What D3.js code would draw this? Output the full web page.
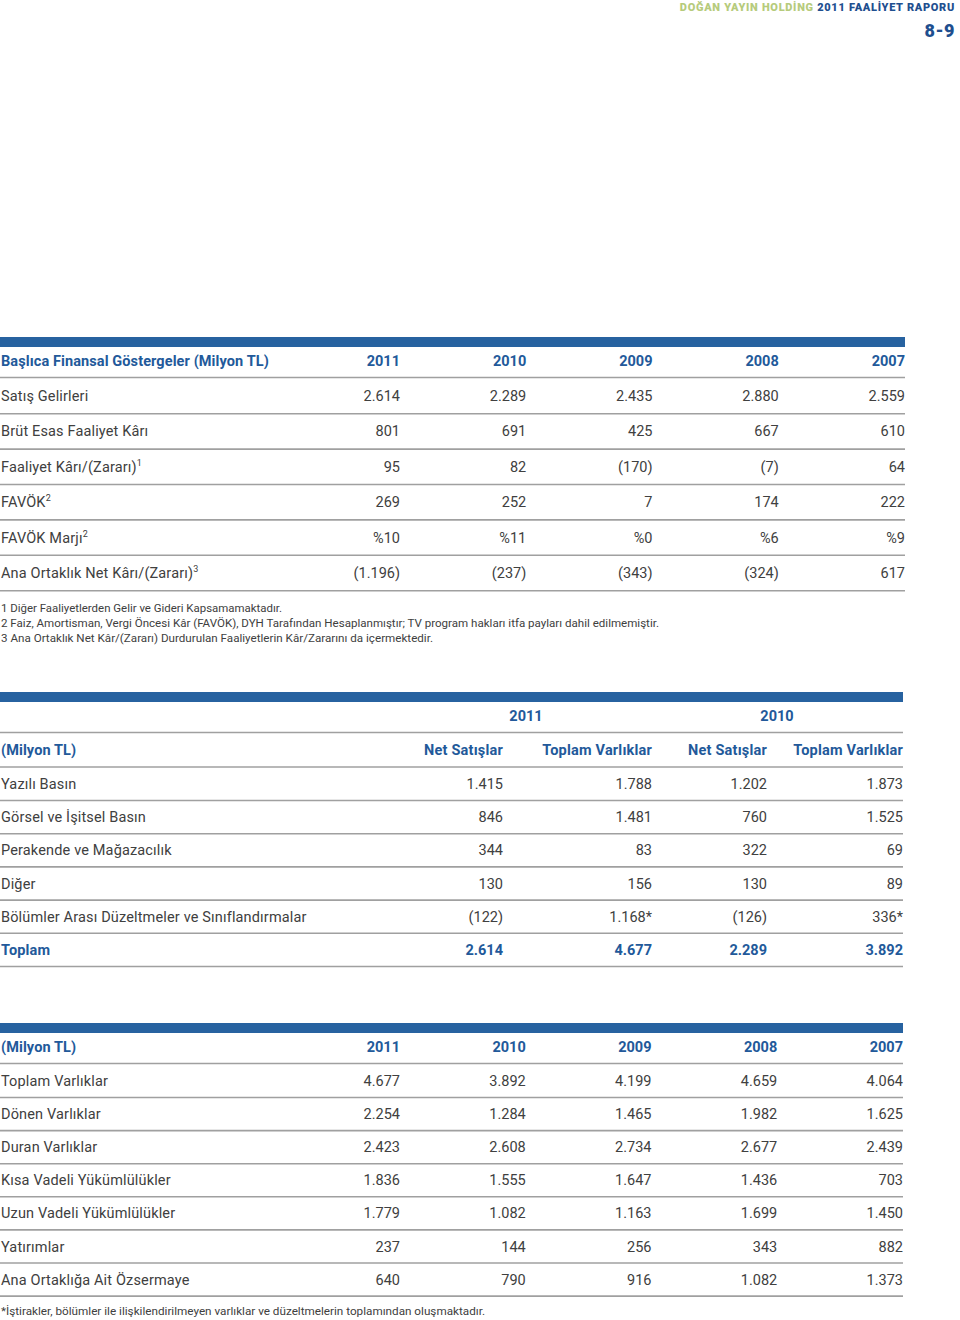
<!DOCTYPE html>
<html><head><meta charset="utf-8">
<script src="https://cdn.jsdelivr.net/npm/d3@7"></script>
<style>body{margin:0;background:#fff;} svg{display:block;}</style>
</head><body>
<svg id="c" width="960" height="1320"></svg>
<script>
// ---------- DATA ----------
const years1 = ["2011","2010","2009","2008","2007"];
const rows1 = [
  {label:"Satış Gelirleri", sup:"", vals:["2.614","2.289","2.435","2.880","2.559"]},
  {label:"Brüt Esas Faaliyet Kârı", sup:"", vals:["801","691","425","667","610"]},
  {label:"Faaliyet Kârı/(Zararı)", sup:"1", vals:["95","82","(170)","(7)","64"]},
  {label:"FAVÖK", sup:"2", vals:["269","252","7","174","222"]},
  {label:"FAVÖK Marjı", sup:"2", vals:["%10","%11","%0","%6","%9"]},
  {label:"Ana Ortaklık Net Kârı/(Zararı)", sup:"3", vals:["(1.196)","(237)","(343)","(324)","617"]}
];
const notes1 = [
  "1 Diğer Faaliyetlerden Gelir ve Gideri Kapsamamaktadır.",
  "2 Faiz, Amortisman, Vergi Öncesi Kâr (FAVÖK), DYH Tarafından Hesaplanmıştır; TV program hakları itfa payları dahil edilmemiştir.",
  "3 Ana Ortaklık Net Kâr/(Zararı) Durdurulan Faaliyetlerin Kâr/Zararını da içermektedir."
];
const years2 = ["2011","2010"];
const cols2 = ["Net Satışlar","Toplam Varlıklar","Net Satışlar","Toplam Varlıklar"];
const rows2 = [
  {label:"Yazılı Basın", vals:["1.415","1.788","1.202","1.873"]},
  {label:"Görsel ve İşitsel Basın", vals:["846","1.481","760","1.525"]},
  {label:"Perakende ve Mağazacılık", vals:["344","83","322","69"]},
  {label:"Diğer", vals:["130","156","130","89"]},
  {label:"Bölümler Arası Düzeltmeler ve Sınıflandırmalar", vals:["(122)","1.168*","(126)","336*"]},
  {label:"Toplam", vals:["2.614","4.677","2.289","3.892"], bold:true}
];
const years3 = ["2011","2010","2009","2008","2007"];
const rows3 = [
  {label:"Toplam Varlıklar", vals:["4.677","3.892","4.199","4.659","4.064"]},
  {label:"Dönen Varlıklar", vals:["2.254","1.284","1.465","1.982","1.625"]},
  {label:"Duran Varlıklar", vals:["2.423","2.608","2.734","2.677","2.439"]},
  {label:"Kısa Vadeli Yükümlülükler", vals:["1.836","1.555","1.647","1.436","703"]},
  {label:"Uzun Vadeli Yükümlülükler", vals:["1.779","1.082","1.163","1.699","1.450"]},
  {label:"Yatırımlar", vals:["237","144","256","343","882"]},
  {label:"Ana Ortaklığa Ait Özsermaye", vals:["640","790","916","1.082","1.373"]}
];
const note3 = "*İştirakler, bölümler ile ilişkilendirilmeyen varlıklar ve düzeltmelerin toplamından oluşmaktadır.";

// ---------- STYLE ----------
const BLUE = "#2762a0", HEAD = "#22599a", TXT = "#404040", LINE = "#a0a0a0", GREEN = "#b6cb7c";
const FONT = "Roboto, 'Noto Sans', sans-serif";
const BLS = 0.1; // bold letter spacing
const svg = d3.select("#c");
svg.style("font-family", FONT);

// header
const hd = svg.append("text").attr("x",955).attr("y",11).attr("text-anchor","end")
  .attr("font-size",11).attr("font-weight",900).attr("letter-spacing",0.7);
hd.append("tspan").attr("fill",GREEN).text("DOĞAN YAYIN HOLDİNG ");
hd.append("tspan").attr("fill","#1f4f8f").text("2011 FAALİYET RAPORU");
svg.append("text").attr("x",955).attr("y",37).attr("text-anchor","end")
  .attr("font-size",18).attr("font-weight",900).attr("letter-spacing",0.5).attr("fill","#1f4f8f").text("8-9");

function hline(y, x0, x1){
  svg.append("line").attr("x1",x0).attr("x2",x1).attr("y1",y).attr("y2",y)
    .attr("stroke",LINE).attr("stroke-width",1.6);
}
function bar(y, x1){
  svg.append("rect").attr("x",0).attr("y",y).attr("width",x1).attr("height",10).attr("fill",BLUE);
}

// ---------- TABLE 1 ----------
{
  const x = d3.scalePoint().domain(years1).range([400,905]);
  const y = d3.scaleLinear().domain([0,1]).range([396,431.4]);
  bar(337,905);
  svg.append("text").attr("x",1).attr("y",366).attr("font-size",14.5).attr("font-weight",700)
    .attr("letter-spacing",BLS).attr("fill",HEAD).text("Başlıca Finansal Göstergeler (Milyon TL)");
  years1.forEach(yr=>svg.append("text").attr("x",x(yr)).attr("y",366).attr("text-anchor","end")
    .attr("font-size",14.5).attr("font-weight",700).attr("fill",HEAD).text(yr));
  hline(377.5,0,905);
  rows1.forEach((r,i)=>{
    const t = svg.append("text").attr("x",1).attr("y",y(i)+5).attr("font-size",14.5)
      .attr("letter-spacing",0.15).attr("fill",TXT);
    t.append("tspan").text(r.label);
    if(r.sup) t.append("tspan").attr("font-size",9).attr("dy",-6).text(r.sup);
    r.vals.forEach((v,j)=>svg.append("text").attr("x",x(years1[j])).attr("y",y(i)+5)
      .attr("text-anchor","end").attr("font-size",14.5).attr("fill",TXT).text(v));
    hline(y(i)+17.7,0,905);
  });
  const w = [281,658,432];
  notes1.forEach((n,i)=>{
    svg.append("text").attr("x",1).attr("y",612+i*15).attr("font-size",11).attr("fill",TXT)
      .attr("textLength",w[i]).attr("lengthAdjust","spacingAndGlyphs").text(n);
  });
}

// ---------- TABLE 2 ----------
{
  const x = d3.scaleOrdinal().domain([0,1,2,3]).range([503,652,767,903]);
  const xc = d3.scaleOrdinal().domain(years2).range([526,777]);
  const y = d3.scaleLinear().domain([0,1]).range([784,817.2]);
  bar(692,903);
  years2.forEach(yr=>svg.append("text").attr("x",xc(yr)).attr("y",721).attr("text-anchor","middle")
    .attr("font-size",14.5).attr("font-weight",700).attr("fill",HEAD).text(yr));
  hline(732.5,0,903);
  svg.append("text").attr("x",1).attr("y",755).attr("font-size",14.5).attr("font-weight",700)
    .attr("letter-spacing",BLS).attr("fill",HEAD).text("(Milyon TL)");
  cols2.forEach((c,j)=>svg.append("text").attr("x",x(j)).attr("y",755).attr("text-anchor","end")
    .attr("font-size",14.5).attr("font-weight",700).attr("letter-spacing",0.2).attr("fill",HEAD).text(c));
  hline(767,0,903);
  rows2.forEach((r,i)=>{
    const col = r.bold?HEAD:TXT, fw = r.bold?700:400;
    svg.append("text").attr("x",1).attr("y",y(i)+5).attr("font-size",14.5).attr("font-weight",fw)
      .attr("letter-spacing",0.15).attr("fill",col).text(r.label);
    r.vals.forEach((v,j)=>svg.append("text").attr("x",x(j)).attr("y",y(i)+5).attr("text-anchor","end")
      .attr("font-size",14.5).attr("font-weight",fw).attr("fill",col).text(v));
    hline(y(i)+16.5,0,903);
  });
}

// ---------- TABLE 3 ----------
{
  const x = d3.scalePoint().domain(years3).range([400,903]);
  const y = d3.scaleLinear().domain([0,1]).range([1081,1114.1]);
  bar(1023,903);
  svg.append("text").attr("x",1).attr("y",1052).attr("font-size",14.5).attr("font-weight",700)
    .attr("letter-spacing",BLS).attr("fill",HEAD).text("(Milyon TL)");
  years3.forEach(yr=>svg.append("text").attr("x",x(yr)).attr("y",1052).attr("text-anchor","end")
    .attr("font-size",14.5).attr("font-weight",700).attr("fill",HEAD).text(yr));
  hline(1063.5,0,903);
  rows3.forEach((r,i)=>{
    svg.append("text").attr("x",1).attr("y",y(i)+5).attr("font-size",14.5)
      .attr("letter-spacing",0.15).attr("fill",TXT).text(r.label);
    r.vals.forEach((v,j)=>svg.append("text").attr("x",x(years3[j])).attr("y",y(i)+5)
      .attr("text-anchor","end").attr("font-size",14.5).attr("fill",TXT).text(v));
    hline(y(i)+16.5,0,903);
  });
  svg.append("text").attr("x",1).attr("y",1315).attr("font-size",11).attr("fill",TXT)
    .attr("textLength",484).attr("lengthAdjust","spacingAndGlyphs").text(note3);
}
</script>
</body></html>
